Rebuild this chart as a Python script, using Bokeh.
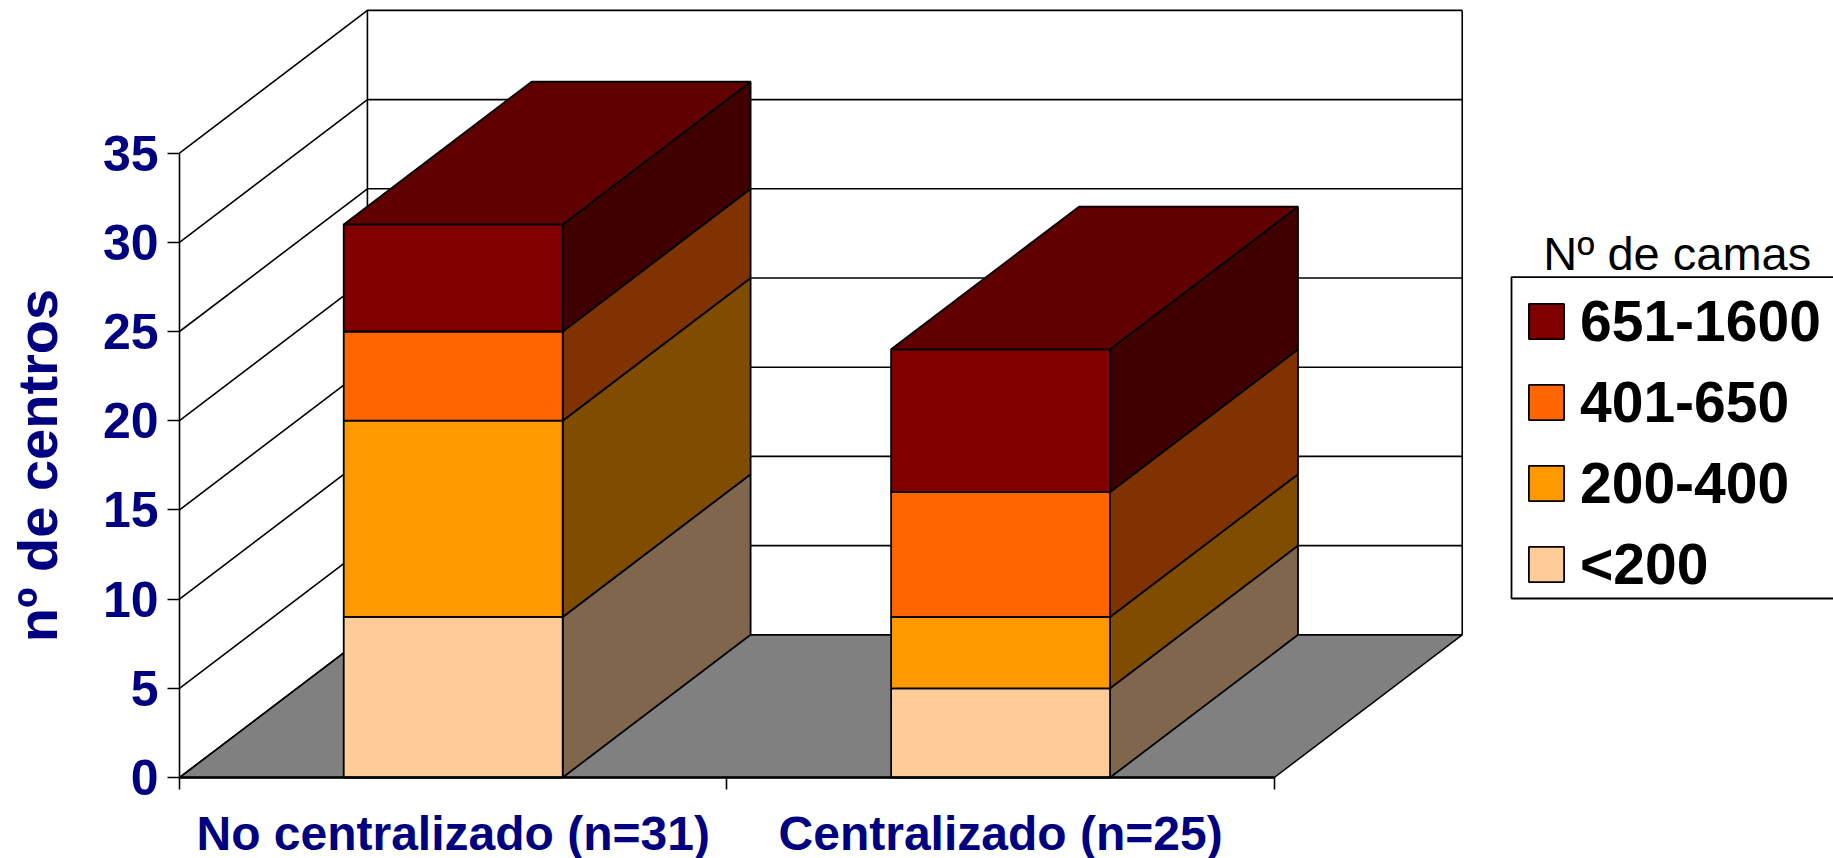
from math import pi
from bokeh.embed import file_html
from bokeh.resources import INLINE
from bokeh.plotting import figure
from bokeh.models import (BoxAnnotation, FixedTicker, Label, Legend, LegendItem, LinearAxis, Range1d)

# ---------- data ----------
categories = ["No centralizado (n=31)", "Centralizado (n=25)"]
series_names = ["<200", "200-400", "401-650", "651-1600"]
lt200 = [9, 5]
s200_400 = [11, 4]
s401_650 = [5, 7]
s651_1600 = [6, 8]
series_values = [lt200, s200_400, s401_650, s651_1600]
y_ticks = [0, 5, 10, 15, 20, 25, 30, 35]
y_title = "nº de centros"
legend_title = "Nº de camas"

# ---------- style ----------
front_colors = ["#FFCC99", "#FF9900", "#FF6600", "#800000"]
side_colors = ["#80664D", "#804D00", "#803300", "#400000"]
top_color = "#600000"
floor_color = "#808080"
NAVY = "#000080"
FONT = "Liberation Sans"
BAR_W = 0.4
DEPTH_X = 0.3433   # oblique projection of the chart's depth, in category units
DEPTH_Y = 8.0      # ... and in value units
Y_MAX = y_ticks[-1]
N = len(categories)
PX_X = 547.4       # pixels per category
PX_Y = 17.84       # pixels per value unit
W, H = 1833, 858
ORIGIN_X, ORIGIN_Y = 179, 777   # where the axes meet

p = figure(width=W, height=H, output_backend="svg", toolbar_location=None,
           x_range=Range1d(-ORIGIN_X / PX_X, (W - ORIGIN_X) / PX_X),
           y_range=Range1d(-(H - ORIGIN_Y) / PX_Y, ORIGIN_Y / PX_Y),
           x_axis_type=None, y_axis_type=None,
           frame_width=W, frame_height=H,
           min_border_left=0, min_border_right=0, min_border_top=0, min_border_bottom=0)
p.outline_line_color = None
p.background_fill_color = "white"
p.border_fill_color = "white"
p.grid.visible = False

# floor
p.patch([0, N, N + DEPTH_X, DEPTH_X], [0, 0, DEPTH_Y, DEPTH_Y],
        fill_color=floor_color, line_color="black", line_width=1.5)

# walls and gridlines
wall_x, wall_y = [], []
for t in y_ticks:
    wall_x.append([0, DEPTH_X, N + DEPTH_X])
    wall_y.append([t, t + DEPTH_Y, t + DEPTH_Y])
wall_x.append([DEPTH_X, DEPTH_X])
wall_y.append([DEPTH_Y, Y_MAX + DEPTH_Y])
wall_x.append([N + DEPTH_X, N + DEPTH_X])
wall_y.append([DEPTH_Y, Y_MAX + DEPTH_Y])
p.multi_line(wall_x, wall_y, line_color="black", line_width=1.6)

# bars
legend_items = []
bottom = [0] * N
for name, vals, fc, sc in zip(series_names, series_values, front_colors, side_colors):
    top = [b + v for b, v in zip(bottom, vals)]
    centers = [i + 0.5 for i in range(N)]
    rights = [c + BAR_W / 2 for c in centers]
    side_x = [[r, r + DEPTH_X, r + DEPTH_X, r] for r in rights]
    side_y = [[b, b + DEPTH_Y, t + DEPTH_Y, t] for b, t in zip(bottom, top)]
    p.patches(side_x, side_y, fill_color=sc, line_color="black", line_width=1.8)
    r = p.vbar(x=centers, width=BAR_W, bottom=bottom, top=top,
               fill_color=fc, line_color="black", line_width=1.8)
    legend_items.append(LegendItem(label=name, renderers=[r]))
    bottom = top

# top faces
centers = [i + 0.5 for i in range(N)]
p.patches([[c - BAR_W / 2, c + BAR_W / 2, c + BAR_W / 2 + DEPTH_X, c - BAR_W / 2 + DEPTH_X]
           for c in centers],
          [[t, t, t + DEPTH_Y, t + DEPTH_Y] for t in bottom],
          fill_color=top_color, line_color="black", line_width=1.8)

# axes
yax = LinearAxis(ticker=FixedTicker(ticks=y_ticks), bounds=(0, Y_MAX), fixed_location=0)
yax.major_label_text_font = FONT
yax.major_label_text_font_style = "bold"
yax.major_label_text_font_size = "50px"
yax.major_label_text_color = NAVY
yax.major_tick_out = 12
yax.major_tick_in = 0
yax.major_tick_line_width = 1.6
yax.major_tick_line_color = "black"
yax.axis_line_width = 1.6
yax.minor_tick_line_color = None
yax.major_label_standoff = 9
p.add_layout(yax, "left")

xax = LinearAxis(ticker=FixedTicker(ticks=[i + 0.5 for i in range(N)],
                                    minor_ticks=list(range(N + 1))),
                 bounds=(0, N), fixed_location=0)
xax.major_label_overrides = {i + 0.5: c for i, c in enumerate(categories)}
xax.major_label_text_font = FONT
xax.major_label_text_font_style = "bold"
xax.major_label_text_font_size = "48px"
xax.major_label_text_color = NAVY
xax.major_tick_line_color = None
xax.major_tick_out = 0
xax.major_tick_in = 0
xax.minor_tick_out = 12
xax.minor_tick_in = 0
xax.minor_tick_line_width = 1.6
xax.minor_tick_line_color = "black"
xax.axis_line_width = 2.5
xax.major_label_standoff = 17
p.add_layout(xax, "below")

# y title
p.add_layout(Label(x=36.5, y=H - 465, x_units="screen", y_units="screen", text=y_title,
                   angle=pi / 2, text_align="center", text_baseline="alphabetic",
                   text_font=FONT, text_font_style="bold", text_font_size="56px",
                   text_color=NAVY))

# legend: its frame runs past the right edge of the page, as in the original
p.add_layout(BoxAnnotation(left=(1511 - ORIGIN_X) / PX_X, right=(1845 - ORIGIN_X) / PX_X,
                           top=(ORIGIN_Y - 276.7) / PX_Y, bottom=(ORIGIN_Y - 598) / PX_Y,
                           fill_color="white", fill_alpha=1,
                           line_color="black", line_width=1.8, line_alpha=1))
legend = Legend(items=legend_items[::-1], location=(1524, 261),
                border_line_color=None, background_fill_alpha=0,
                label_text_font=FONT, label_text_font_style="bold",
                label_text_font_size="57px", label_text_color="black",
                glyph_width=44, glyph_height=44, label_standoff=12,
                label_height=53, spacing=15, padding=8, margin=0)
p.add_layout(legend, "center")
p.add_layout(Label(x=1676.7, y=H - 269.3 + 16, x_units="screen", y_units="screen", text=legend_title,
                   text_align="center", text_baseline="alphabetic",
                   text_font=FONT, text_font_size="47px", text_color="black"))

open("out.html", "w").write(file_html(p, INLINE))
